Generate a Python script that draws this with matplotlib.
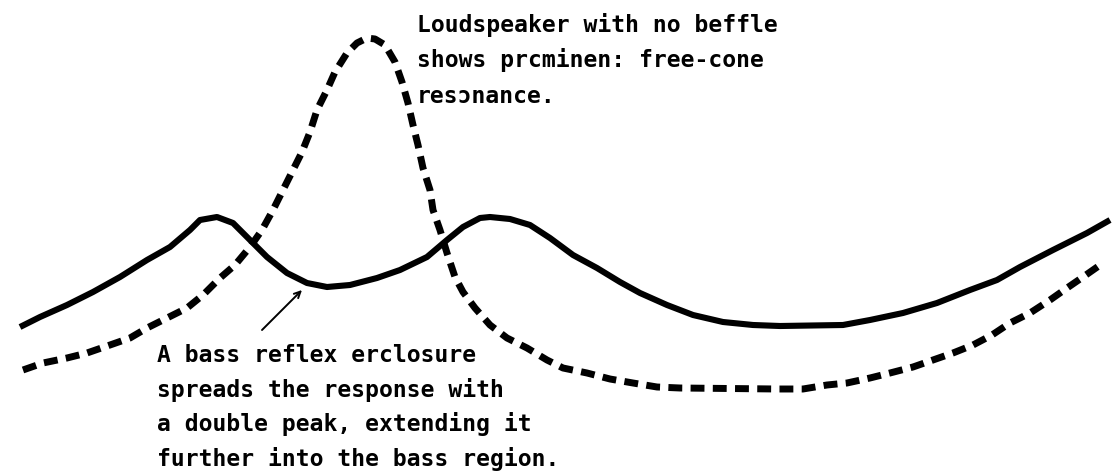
import matplotlib.pyplot as plt

# curves, in pixel coords (y grows downward)
reflex_x = [20, 40, 67, 93, 120, 147, 170, 190, 200, 217, 233, 250, 267, 287, 307,
            327, 350, 377, 400, 427, 447, 463, 480, 490, 510, 530, 550, 573, 597, 620,
            640, 667, 693, 723, 753, 780, 843, 870, 903, 937, 970, 997, 1020, 1053,
            1087, 1110]
reflex_y = [327, 317, 305, 292, 277, 260, 247, 230, 220, 217, 223, 240, 257, 273, 283,
            287, 285, 278, 270, 257, 240, 227, 218, 217, 219, 225, 238, 255, 268, 282,
            293, 305, 315, 322, 325, 326, 325, 320, 313, 303, 290, 280, 267, 250,
            233, 220]

nobaffle_x = [23, 43, 67, 87, 110, 130, 147, 167, 187, 203, 220, 235, 250, 262, 273,
              283, 292, 302, 310, 317, 327, 335, 347, 357, 367, 375, 385, 395, 402, 408,
              413, 418, 423, 430, 433, 440, 447, 455, 463, 475, 490, 507, 527, 547,
              563, 587, 610, 633, 657, 680, 777, 803, 827, 847, 870, 890, 913, 933,
              953, 973, 992, 1010, 1030, 1050, 1067, 1083, 1103]
nobaffle_y = [370, 363, 358, 353, 345, 338, 328, 318, 308, 295, 278, 265, 247, 230, 210,
              190, 172, 152, 132, 110, 90, 72, 53, 43, 38, 39, 45, 62, 82, 103,
              125, 145, 168, 190, 210, 230, 253, 277, 292, 308, 325, 338, 348, 360,
              368, 373, 379, 383, 387, 388, 389, 389, 385, 383, 378, 373, 367, 360,
              353, 345, 335, 323, 313, 300, 288, 277, 263]

top_lines = ["Loudspeaker with no beffle", "shows prcminen: free-cone", "resɔnance."]
top_base = [32, 67, 103]
bottom_lines = ["A bass reflex erclosure", "spreads the response with",
                "a double peak, extending it", "further into the bass region."]
bottom_base = [362, 397, 431, 466]

fig = plt.figure(figsize=(11.12, 4.75), dpi=100)
ax = fig.add_axes([0, 0, 1, 1])
ax.set_xlim(0, 1112)
ax.set_ylim(475, 0)
ax.axis("off")

ax.plot(reflex_x, reflex_y, color="black", linewidth=4.4, solid_capstyle="butt",
        solid_joinstyle="round")
ax.plot(nobaffle_x, nobaffle_y, color="black", linewidth=5.0,
        dashes=(2.0, 1.2), dash_capstyle="butt")

for line, yb in zip(top_lines, top_base):
    ax.text(417, yb, line, fontsize=16.6, va="baseline", ha="left",
            family="DejaVu Sans Mono", weight="bold")
for line, yb in zip(bottom_lines, bottom_base):
    ax.text(157, yb, line, fontsize=16.6, va="baseline", ha="left",
            family="DejaVu Sans Mono", weight="bold")

ax.annotate("", xy=(302, 290), xytext=(262, 330),
            arrowprops=dict(arrowstyle="->,head_length=0.45,head_width=0.22",
                            color="black", lw=1.4, shrinkA=0, shrinkB=0))

fig.savefig("out.png", dpi=100)
